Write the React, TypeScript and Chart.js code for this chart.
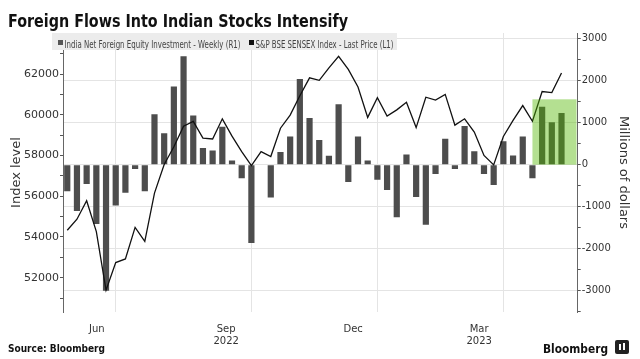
import React, { useEffect, useRef } from 'react';
import { Chart, registerables } from 'chart.js';

Chart.register(...registerables);

// Weekly India net foreign equity investment, millions of dollars (right axis)
const flows = [
  -630, -1100, -460, -1410, -3000, -970, -670, -100, -630, 1200,
  750, 1860, 2580, 1170, 400, 340, 900, 100, -320, -1860,
  10, -780, 300, 670, 2040, 1110, 590, 210, 1440, -410,
  670, 100, -360, -600, -1250, 240, -770, -1430, -220, 620,
  -100, 920, 320, -220, -480, 560, 220, 670, -320, 1380,
  1010, 1230,
];

// S&P BSE SENSEX weekly last price (left axis)
const sensex = [
  54330, 54870, 55780, 54260, 51390, 52740, 52920, 54470, 53780, 56150,
  57560, 58430, 59440, 59670, 58850, 58810, 59800, 58950, 58190, 57500,
  58190, 57950, 59340, 59980, 60930, 61810, 61690, 62300, 62870, 62230,
  61360, 59870, 60840, 59930, 60240, 60610, 59370, 60860, 60720, 61000,
  59490, 59800, 59150, 58000, 57540, 58930, 59720, 60450, 59680, 61140,
  61090, 62050,
];

const leftTicks = [52000, 54000, 56000, 58000, 60000, 62000];
const rightTicks = [-3000, -2000, -1000, 0, 1000, 2000, 3000];
const monthLabels = [['Jun'], ['Sep', '2022'], ['Dec'], ['Mar', '2023']];
const monthLabelWeeks = [3.05, 16.4, 29.5, 42.5];
const quarterGridWeeks = [5, 19, 32, 45];
const highlightWeeks = [48, 52.55];
const highlightTop = 1555;

const TITLE = 'Foreign Flows Into Indian Stocks Intensify';
const LEGEND1 = 'India Net Foreign Equity Investment - Weekly (R1)';
const LEGEND2 = 'S&P BSE SENSEX Index - Last Price (L1)';
const SOURCE = 'Source: Bloomberg';
const FONT = '"DejaVu Sans", "Noto Sans", sans-serif';

function withMinors(majors: number[], lo: number, hi: number) {
  const step = majors[1] - majors[0];
  const out: { value: number; major: boolean }[] = [];
  const first = majors[0] - step / 2;
  for (let v = first; v <= majors[majors.length - 1] + step / 2 + 1e-6; v += step / 2) {
    if (v >= lo && v <= hi) out.push({ value: v, major: majors.includes(v) });
  }
  return out;
}

const decor = {
  id: 'decor',
  beforeDraw(chart: any) {
    const { ctx, width, height } = chart;
    ctx.save();
    ctx.fillStyle = '#ffffff';
    ctx.fillRect(0, 0, width, height);
    ctx.restore();
  },
  afterDatasetsDraw(chart: any) {
    const { ctx, scales } = chart;
    const x0 = scales.x.getPixelForValue(highlightWeeks[0]);
    const x1 = scales.x.getPixelForValue(highlightWeeks[1]);
    const y0 = scales.yR.getPixelForValue(highlightTop);
    const y1 = scales.yR.getPixelForValue(0);
    ctx.save();
    ctx.fillStyle = 'rgba(80,183,0,0.43)';
    ctx.fillRect(x0, y0, x1 - x0, y1 - y0);
    ctx.restore();
  },
  afterDraw(chart: any) {
    const { ctx } = chart;
    ctx.save();
    // title
    ctx.fillStyle = '#111';
    ctx.textBaseline = 'alphabetic';
    ctx.textAlign = 'left';
    ctx.font = `bold 18.5px ${FONT}`;
    ctx.fillText(TITLE, 8, 27, 340);
    // legend box
    ctx.fillStyle = '#ececec';
    ctx.fillRect(52, 33, 345, 17);
    ctx.fillStyle = '#555';
    ctx.fillRect(58, 40, 5, 5);
    ctx.fillStyle = '#111';
    ctx.fillRect(249, 40, 5, 5);
    ctx.fillStyle = '#444';
    ctx.font = `10px ${FONT}`;
    ctx.fillText(LEGEND1, 64.5, 47.5, 176);
    ctx.fillText(LEGEND2, 255.5, 47.5, 138);
    // footer
    ctx.fillStyle = '#111';
    ctx.font = `bold 10px ${FONT}`;
    ctx.fillText(SOURCE, 8, 352, 97);
    ctx.font = `bold 13px ${FONT}`;
    ctx.fillText('Bloomberg', 543, 353, 65);
    // logo square
    ctx.fillStyle = '#222';
    ctx.beginPath();
    ctx.roundRect(615, 340, 14, 14, 2);
    ctx.fill();
    ctx.fillStyle = '#fff';
    ctx.fillRect(619, 344, 2, 6);
    ctx.fillRect(623, 343, 2, 7);
    ctx.restore();
  },
};

export default function App() {
  const ref = useRef<HTMLCanvasElement | null>(null);

  useEffect(() => {
    document.body.style.margin = '0';
    const canvas = ref.current;
    if (!canvas) return;
    const xMin = -0.44;
    const xMax = 52.67;
    const chart = new Chart(canvas, {
      type: 'line',
      data: {
        datasets: [
          {
            type: 'bar',
            label: LEGEND1,
            data: flows.map((v, i) => ({ x: i, y: v })),
            xAxisID: 'x',
            yAxisID: 'yR',
            backgroundColor: '#4d4d4d',
            barPercentage: 0.64,
            categoryPercentage: 1,
            order: 2,
          } as any,
          {
            type: 'line',
            label: LEGEND2,
            data: sensex.map((v, i) => ({ x: i, y: v })),
            xAxisID: 'x',
            yAxisID: 'yL',
            borderColor: '#111',
            borderWidth: 1.3,
            pointRadius: 0,
            tension: 0,
            fill: false,
            order: 1,
          },
        ],
      },
      options: {
        responsive: false,
        animation: false,
        devicePixelRatio: 1,
        layout: { padding: { top: 33, left: 0, right: 0, bottom: 0 } },
        plugins: {
          legend: { display: false },
          title: { display: false },
          tooltip: { enabled: false },
        },
        scales: {
          x: {
            type: 'linear',
            position: 'bottom',
            min: xMin,
            max: xMax,
            offset: false,
            afterBuildTicks: (s: any) => {
              s.ticks = quarterGridWeeks.map((v) => ({ value: v }));
            },
            afterFit: (s: any) => {
              s.height = 0;
            },
            grid: { color: '#e4e4e4', drawTicks: false, offset: false },
            border: { display: false },
            ticks: { display: false, autoSkip: false },
          },
          x2: {
            type: 'linear',
            position: 'bottom',
            min: xMin,
            max: xMax,
            offset: false,
            afterBuildTicks: (s: any) => {
              s.ticks = monthLabelWeeks.map((v) => ({ value: v }));
            },
            afterFit: (s: any) => {
              s.height = 47;
            },
            grid: { display: false },
            border: { display: false },
            ticks: {
              autoSkip: false,
              maxRotation: 0,
              padding: 3,
              color: '#333',
              font: { family: FONT, size: 10, lineHeight: 1.25 },
              callback: (_v: any, i: number) => monthLabels[i],
            },
          },
          yL: {
            type: 'linear',
            position: 'left',
            min: 50316,
            max: 64013,
            afterBuildTicks: (s: any) => {
              s.ticks = withMinors(leftTicks, 50316, 64013);
            },
            afterFit: (s: any) => {
              s.width = 63;
            },
            grid: {
              drawOnChartArea: false,
              tickLength: 3,
              tickColor: '#555',
            },
            border: { display: true, color: '#666' },
            ticks: {
              autoSkip: false,
              padding: 1,
              color: '#333',
              font: { family: FONT, size: 11 },
              callback: (v: any) => (leftTicks.includes(v) ? String(v) : ''),
            },
            title: {
              display: true,
              text: 'Index level',
              color: '#333',
              font: { family: FONT, size: 13 },
              padding: { top: 9, bottom: 0 },
            },
          },
          yR: {
            type: 'linear',
            position: 'right',
            min: -3503,
            max: 3132,
            afterBuildTicks: (s: any) => {
              s.ticks = withMinors(rightTicks, -3503, 3132);
            },
            afterFit: (s: any) => {
              s.width = 62.3;
            },
            grid: {
              color: (c: any) => (rightTicks.includes(c.tick?.value) ? '#e4e4e4' : 'rgba(0,0,0,0)'),
              tickColor: '#555',
              tickLength: 3,
            },
            border: { display: true, color: '#666' },
            ticks: {
              autoSkip: false,
              padding: 1,
              color: '#333',
              font: { family: FONT, size: 10 },
              callback: (v: any) => (rightTicks.includes(v) ? String(v) : ''),
            },
            title: {
              display: true,
              text: 'Millions of dollars',
              color: '#333',
              font: { family: FONT, size: 13 },
              padding: { top: 9, bottom: 0 },
            },
          },
        },
      } as any,
      plugins: [decor],
    });
    return () => chart.destroy();
  }, []);

  return (
    <div style={{ position: 'fixed', left: 0, top: 0, width: 640, height: 359, background: '#fff' }}>
      <canvas ref={ref} width={640} height={359} style={{ display: 'block' }} />
    </div>
  );
}
